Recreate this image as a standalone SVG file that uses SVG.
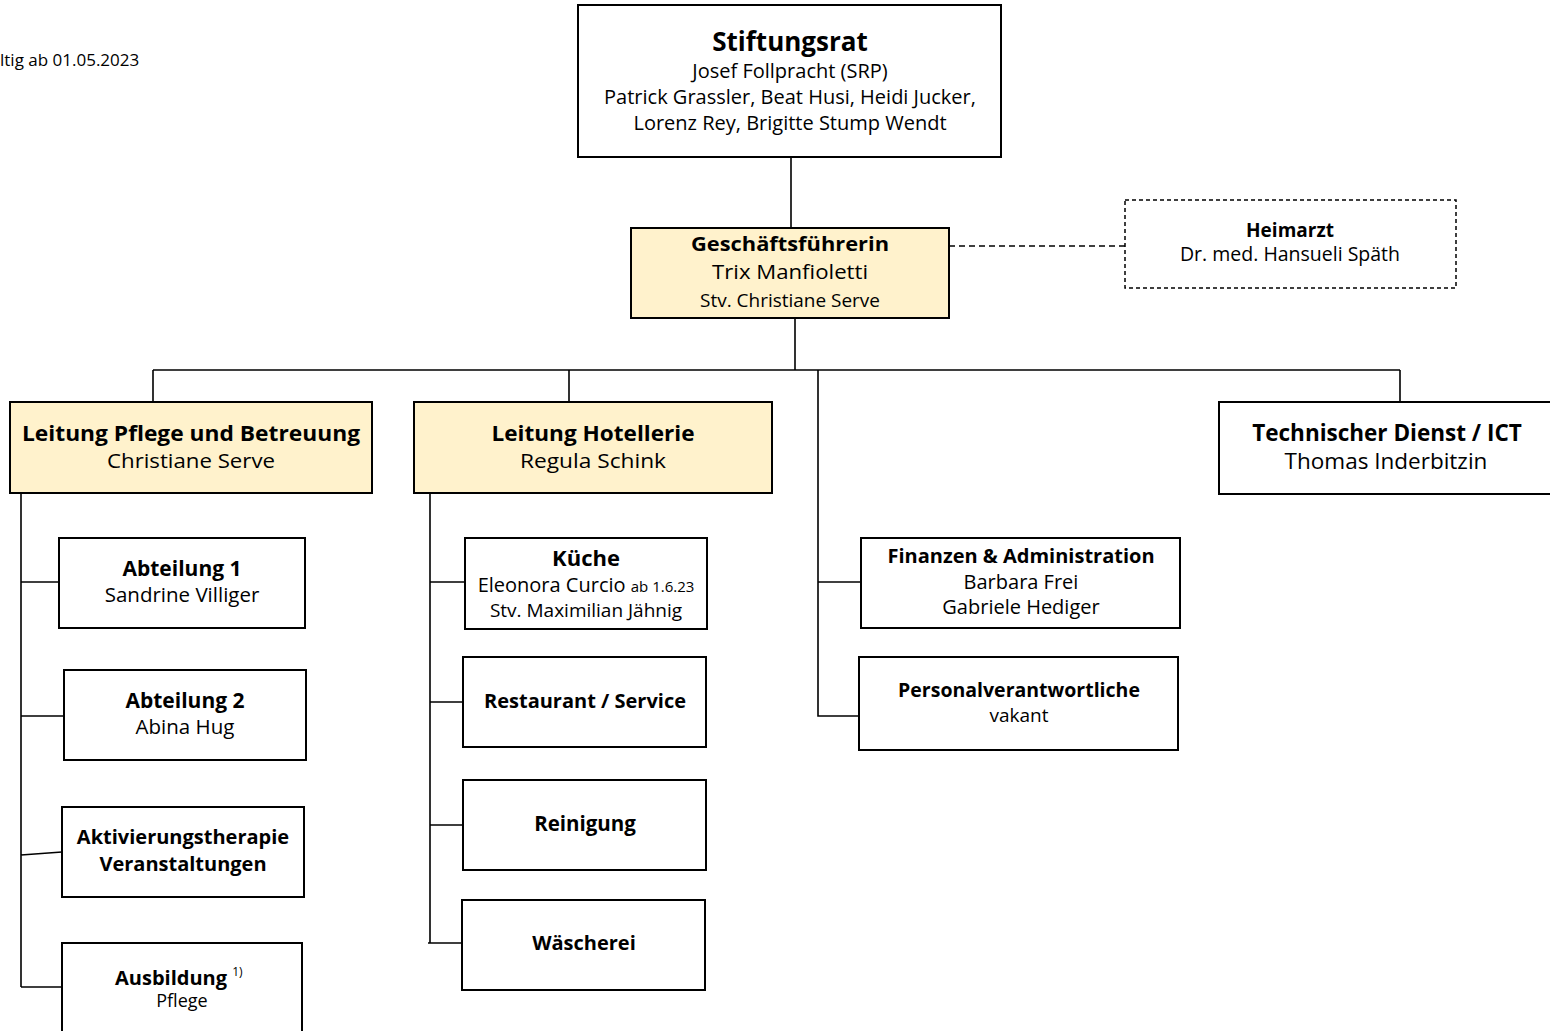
<svg xmlns="http://www.w3.org/2000/svg" width="1550" height="1031" viewBox="0 0 1550 1031">
<style>
text{font-family:"Open Sans","Noto Sans","DejaVu Sans",sans-serif;fill:#000;text-anchor:middle}
.b{font-weight:bold}
.box{fill:#fff;stroke:#000;stroke-width:2}
.yel{fill:#fff2cc;stroke:#000;stroke-width:2}
.dash{fill:#fff;stroke:#000;stroke-width:1.5;stroke-dasharray:4 3}
.ln{stroke:#000;stroke-width:1.6;fill:none}
</style>
<text x="0" y="66" style="text-anchor:start;font-size:17px">ltig ab 01.05.2023</text>
<g id="connectors">
<path class="ln" d="M791 157V228M795 318V370M153 370H1400M153 370V402M569 370V402M818 370V716H859M1400 370V402"/>
<path class="ln" d="M949 246H1125" stroke-dasharray="6 4"/>
<path class="ln" d="M21 493V987M21 582H59M21 716H64M21 855L62 852M21 987H62"/>
<path class="ln" d="M430 493V943M430 582H465M430 702H463M430 825H463M428 943H462"/>
<path class="ln" d="M818 582H861"/>
</g>
<g id="stiftungsrat">
<rect class="box" x="578" y="5" width="423" height="152"/>
<text x="790" y="51" class="b" style="font-size:26px">Stiftungsrat</text>
<text x="790" y="78" style="font-size:20px">Josef Follpracht (SRP)</text>
<text x="790" y="104" style="font-size:20px">Patrick Grassler, Beat Husi, Heidi Jucker,</text>
<text x="790" y="130" style="font-size:20px">Lorenz Rey, Brigitte Stump Wendt</text>
</g>
<g id="geschaeftsfuehrerin">
<rect class="yel" x="631" y="228" width="318" height="90"/>
<text x="790" y="251" class="b" style="font-size:20px" textLength="198" lengthAdjust="spacingAndGlyphs">Geschäftsführerin</text>
<text x="790" y="279" style="font-size:20px" textLength="156" lengthAdjust="spacingAndGlyphs">Trix Manfioletti</text>
<text x="790" y="307" style="font-size:18px" textLength="180" lengthAdjust="spacingAndGlyphs">Stv. Christiane Serve</text>
</g>
<g id="heimarzt">
<rect class="dash" x="1125" y="200" width="331" height="88"/>
<text x="1290" y="237" class="b" style="font-size:19px">Heimarzt</text>
<text x="1290" y="261" style="font-size:19.5px">Dr. med. Hansueli Späth</text>
</g>
<g id="leitung-pflege">
<rect class="yel" x="10" y="402" width="362" height="91"/>
<text x="191" y="441" class="b" style="font-size:21px" textLength="338" lengthAdjust="spacingAndGlyphs">Leitung Pflege und Betreuung</text>
<text x="191" y="468" style="font-size:20px" textLength="168" lengthAdjust="spacingAndGlyphs">Christiane Serve</text>
</g>
<g id="leitung-hotellerie">
<rect class="yel" x="414" y="402" width="358" height="91"/>
<text x="593" y="441" class="b" style="font-size:21px" textLength="203" lengthAdjust="spacingAndGlyphs">Leitung Hotellerie</text>
<text x="593" y="468" style="font-size:20px" textLength="146" lengthAdjust="spacingAndGlyphs">Regula Schink</text>
</g>
<g id="technik">
<rect class="box" x="1219" y="402" width="340" height="92"/>
<text x="1387" y="441" class="b" style="font-size:22.5px">Technischer Dienst / ICT</text>
<text x="1386" y="469" style="font-size:22.5px">Thomas Inderbitzin</text>
</g>
<g id="abteilung1">
<rect class="box" x="59" y="538" width="246" height="90"/>
<text x="182" y="576" class="b" style="font-size:21px">Abteilung 1</text>
<text x="182" y="602" style="font-size:20.5px">Sandrine Villiger</text>
</g>
<g id="abteilung2">
<rect class="box" x="64" y="670" width="242" height="90"/>
<text x="185" y="708" class="b" style="font-size:21px">Abteilung 2</text>
<text x="185" y="734" style="font-size:20.5px">Abina Hug</text>
</g>
<g id="aktivierung">
<rect class="box" x="62" y="807" width="242" height="90"/>
<text x="183" y="844" class="b" style="font-size:20px">Aktivierungstherapie</text>
<text x="183" y="871" class="b" style="font-size:20px">Veranstaltungen</text>
</g>
<g id="ausbildung">
<rect class="box" x="62" y="943" width="240" height="100"/>
<text x="115" y="985" class="b" style="font-size:20px;text-anchor:start">Ausbildung <tspan style="font-weight:normal;font-size:12px" dy="-9">1)</tspan></text>
<text x="182" y="1007" style="font-size:18px">Pflege</text>
</g>
<g id="kueche">
<rect class="box" x="465" y="538" width="242" height="91"/>
<text x="586" y="566" class="b" style="font-size:22px">Küche</text>
<text x="586" y="592" style="font-size:20px">Eleonora Curcio <tspan style="font-size:15px">ab 1.6.23</tspan></text>
<text x="586" y="617" style="font-size:19px">Stv. Maximilian Jähnig</text>
</g>
<g id="restaurant">
<rect class="box" x="463" y="657" width="243" height="90"/>
<text x="585" y="708" class="b" style="font-size:20px">Restaurant / Service</text>
</g>
<g id="reinigung">
<rect class="box" x="463" y="780" width="243" height="90"/>
<text x="585" y="831" class="b" style="font-size:20.5px">Reinigung</text>
</g>
<g id="waescherei">
<rect class="box" x="462" y="900" width="243" height="90"/>
<text x="584" y="950" class="b" style="font-size:20px">Wäscherei</text>
</g>
<g id="finanzen">
<rect class="box" x="861" y="538" width="319" height="90"/>
<text x="1021" y="563" class="b" style="font-size:20px">Finanzen &amp; Administration</text>
<text x="1021" y="589" style="font-size:20px">Barbara Frei</text>
<text x="1021" y="614" style="font-size:20px">Gabriele Hediger</text>
</g>
<g id="personal">
<rect class="box" x="859" y="657" width="319" height="93"/>
<text x="1019" y="697" class="b" style="font-size:19.5px">Personalverantwortliche</text>
<text x="1019" y="722" style="font-size:19px">vakant</text>
</g>
</svg>
